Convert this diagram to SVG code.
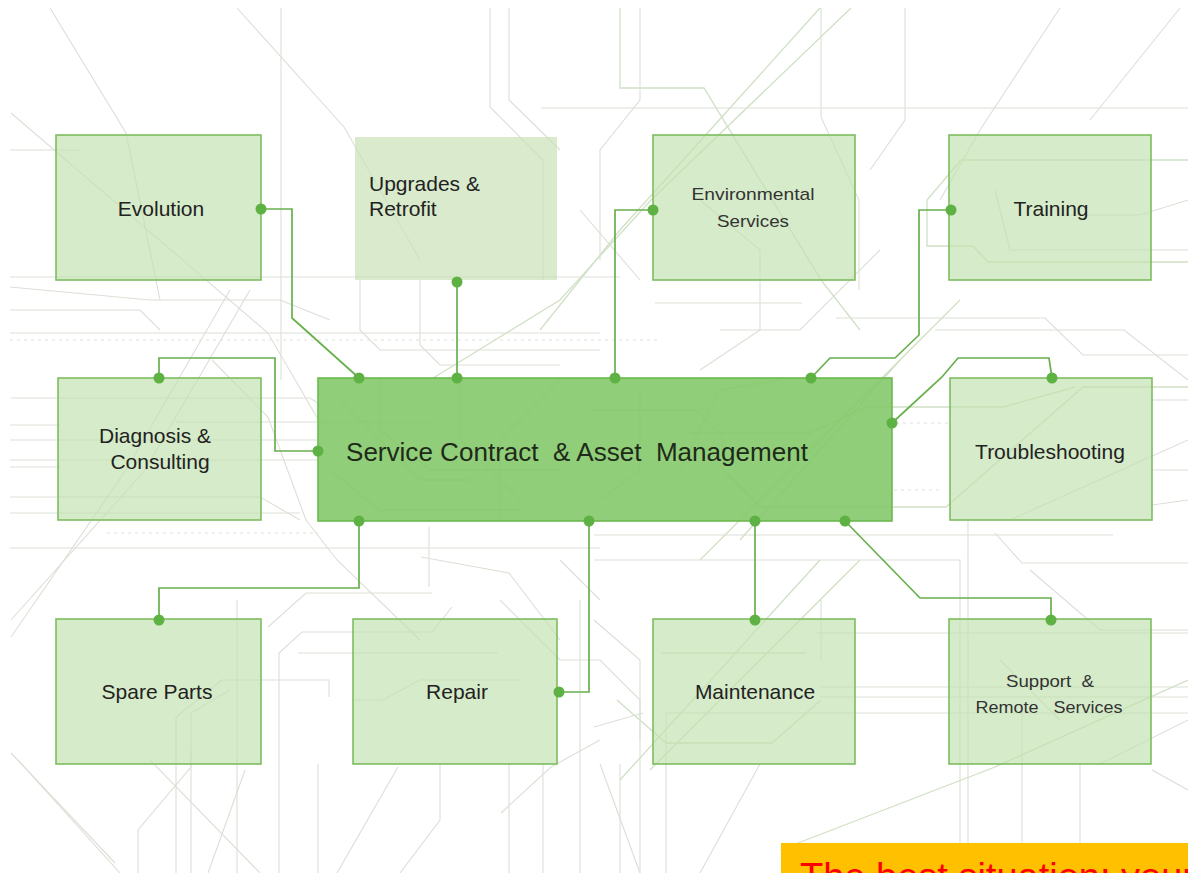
<svg xmlns="http://www.w3.org/2000/svg" width="1188" height="873" viewBox="0 0 1188 873">
  <style>
    .bg { fill: none; stroke: #dbe0d6; stroke-width: 1.1; }
    .bgg { fill: none; stroke: #cfe0c4; stroke-width: 1.3; }
    .bgd { fill: none; stroke: #dce1d7; stroke-width: 1.1; stroke-dasharray: 3 4; }
    .box { fill: #c2e1af; fill-opacity: 0.68; stroke: #7dbd60; stroke-width: 1.6; }
    .box-soft { fill: #c9e1b8; fill-opacity: 0.7; stroke: none; }
    .hub { fill: #82c767; fill-opacity: 0.88; stroke: #6cba4f; stroke-width: 1.6; }
    .wire { fill: none; stroke: #68b04c; stroke-width: 1.7; }
    .dot { fill: #5eb243; }
    .lbl { font-family: "Liberation Sans", Arial, sans-serif; font-size: 21px; fill: #222; text-anchor: middle; white-space: pre; }
    .lbl-l { text-anchor: start; }
    .lbl-n { font-size: 17px; fill: #333; }
    .hub-lbl { font-family: "Liberation Sans", Arial, sans-serif; font-size: 26px; fill: #1e2a1a; white-space: pre; }
  </style>

  <rect x="0" y="0" width="1188" height="873" fill="#ffffff"/>

  <!-- circuit-board background traces -->
  <g id="background">
    <!-- top band -->
    <polyline class="bg" points="50,8 126,133 160,300"/>
    <polyline class="bg" points="237,8 344,127 420,260"/>
    <polyline class="bg" points="11,113 268,333 330,440"/>
    <polyline class="bg" points="281,8 281,380"/>
    <polyline class="bg" points="490,8 490,107 543,160 543,280"/>
    <polyline class="bg" points="509,8 509,100 560,150"/>
    <polyline class="bgg" points="620,8 620,88 704,88 821,280 860,330"/>
    <polyline class="bgg" points="851,8 651,200 560,300 430,380"/>
    <polyline class="bgg" points="820,8 620,230 540,330"/>
    <polyline class="bg" points="821,8 821,117 859,200 859,290"/>
    <polyline class="bg" points="640,8 640,100 600,150 600,260"/>
    <polyline class="bg" points="905,8 905,120 870,170"/>
    <polyline class="bg" points="1060,8 980,130 940,200"/>
    <polyline class="bg" points="1180,8 1090,120"/>
    <polyline class="bg" points="541,108 1188,108"/>
    <polyline class="bg" points="10,150 80,150"/>
    <polyline class="bg" points="10,277 620,277"/>
    <polyline class="bg" points="10,287 150,300 280,300 330,320"/>
    <polyline class="bg" points="10,310 140,310 160,330"/>
    <polyline class="bgd" points="10,340 660,340"/>
    <polyline class="bg" points="10,333 600,333"/>
    <polyline class="bg" points="360,280 360,330 380,350 600,350"/>
    <polyline class="bg" points="420,280 420,345 440,365 560,365"/>
    <polyline class="bg" points="655,303 802,303"/>
    <polyline class="bg" points="836,318 1045,318 1083,355 1188,355"/>
    <polyline class="bg" points="935,330 1124,330 1188,380"/>
    <polyline class="bgg" points="961,160 1188,160"/>
    <polyline class="bgg" points="961,160 927,200 927,246 973,246 988,262 1188,262"/>
    <polyline class="bg" points="995,190 1010,250 1188,250"/>
    <polyline class="bg" points="1188,200 1140,215 1060,215"/>
    <polyline class="bg" points="700,200 760,250 760,330 700,370"/>
    <polyline class="bg" points="580,210 640,280"/>
    <polyline class="bg" points="880,250 800,330 720,330"/>

    <!-- middle band -->
    <polyline class="bg" points="11,398 310,398 333,413"/>
    <polyline class="bg" points="176,422 432,422"/>
    <polyline class="bg" points="10,425 60,425"/>
    <polyline class="bg" points="10,440 318,440"/>
    <polyline class="bg" points="10,460 318,460"/>
    <polyline class="bg" points="10,467 60,467"/>
    <polyline class="bg" points="10,497 260,497 300,520"/>
    <polyline class="bg" points="10,513 300,513"/>
    <polyline class="bgd" points="107,533 318,533"/>
    <polyline class="bg" points="10,548 600,548"/>
    <polyline class="bg" points="11,637 126,470 230,290"/>
    <polyline class="bg" points="11,620 145,470 250,290"/>
    <polyline class="bg" points="212,360 268,417 306,520 337,560 420,640"/>
    <polyline class="bg" points="268,627 306,593 432,593"/>
    <polyline class="bg" points="429,527 429,587"/>
    <polyline class="bg" points="421,557 509,573 560,640"/>
    <polyline class="bgg" points="340,400 420,480 470,480"/>
    <polyline class="bgg" points="380,380 380,430 430,470 560,470"/>
    <polyline class="bgg" points="330,470 380,510 520,510"/>
    <polyline class="bgg" points="460,380 460,440 520,500"/>
    <polyline class="bgg" points="560,380 500,440 500,520"/>
    <polyline class="bgg" points="594,410 696,410 723,437 723,470 761,507 946,507 1083,387 1188,387"/>
    <polyline class="bgg" points="689,433 810,433 867,407 1003,407 1075,387"/>
    <polyline class="bgg" points="640,390 640,470 600,500"/>
    <polyline class="bgg" points="740,540 900,360"/>
    <polyline class="bgg" points="700,560 960,300"/>
    <polyline class="bgg" points="680,470 720,390 780,380"/>
    <polyline class="bgd" points="896,423 950,423"/>
    <polyline class="bgd" points="880,490 940,490"/>
    <polyline class="bg" points="1152,400 1188,400"/>
    <polyline class="bg" points="1152,470 1188,470"/>
    <polyline class="bg" points="1152,505 1188,500"/>
    <polyline class="bg" points="594,535 1113,535"/>
    <polyline class="bg" points="594,560 960,560 960,843"/>
    <polyline class="bg" points="968,520 968,843"/>
    <polyline class="bg" points="995,533 1022,563 1188,563"/>
    <polyline class="bg" points="1030,570 1100,630 1188,630"/>
    <polyline class="bg" points="1010,520 1188,440"/>
    <polyline class="bg" points="560,560 600,600"/>

    <!-- bottom band -->
    <polyline class="bg" points="279,873 279,653 302,632 432,632 452,607"/>
    <polyline class="bg" points="298,653 498,653"/>
    <polyline class="bg" points="176,873 176,717 222,680 329,680 329,697"/>
    <polyline class="bg" points="191,873 191,713 230,690"/>
    <polyline class="bg" points="11,753 115,863"/>
    <polyline class="bg" points="18,760 120,873"/>
    <polyline class="bg" points="138,873 138,830 191,767 191,750"/>
    <polyline class="bg" points="237,600 237,873"/>
    <polyline class="bg" points="245,770 208,873"/>
    <polyline class="bg" points="150,760 260,873"/>
    <polyline class="bg" points="501,813 551,767 600,740"/>
    <polyline class="bg" points="509,764 509,873"/>
    <polyline class="bg" points="543,764 543,873"/>
    <polyline class="bg" points="580,600 580,873"/>
    <polyline class="bg" points="600,764 640,873"/>
    <polyline class="bg" points="398,767 337,873"/>
    <polyline class="bg" points="440,764 440,820 400,873"/>
    <polyline class="bg" points="318,764 318,873"/>
    <polyline class="bg" points="352,700 383,700 420,680 520,680"/>
    <polyline class="bg" points="500,600 560,660 600,660 640,700 640,873"/>
    <polyline class="bg" points="620,764 620,873"/>
    <polyline class="bg" points="817,633 1188,633"/>
    <polyline class="bg" points="821,687 1188,687"/>
    <polyline class="bg" points="821,697 1188,697"/>
    <polyline class="bg" points="666,713 1188,713"/>
    <polyline class="bgg" points="780,850 995,767 1188,680"/>
    <polyline class="bg" points="666,713 666,873"/>
    <polyline class="bg" points="821,600 821,660"/>
    <polyline class="bg" points="1022,713 1022,843"/>
    <polyline class="bg" points="1080,764 1080,843"/>
    <polyline class="bg" points="594,727 643,713"/>
    <polyline class="bgg" points="662,653 806,653"/>
    <polyline class="bgg" points="617,700 666,743 772,743 821,700"/>
    <polyline class="bgg" points="620,780 820,560"/>
    <polyline class="bgg" points="650,770 860,560"/>
    <polyline class="bg" points="594,620 640,660 640,740"/>
    <polyline class="bg" points="700,873 760,764"/>
    <polyline class="bg" points="1100,764 1188,720"/>
    <polyline class="bg" points="1152,770 1188,790"/>
    <polyline class="bg" points="1000,660 1060,720"/>
  </g>

  <!-- connectors -->
  <g id="connectors">
    <polyline class="wire" points="261,209 292,209 292,318 359,378"/>
    <polyline class="wire" points="457,282 457,378"/>
    <polyline class="wire" points="653,210 615,210 615,378"/>
    <polyline class="wire" points="951,210 919,210 919,335 895,358 830,358 811,378"/>
    <polyline class="wire" points="159,378 159,358 275,358 275,451 318,451"/>
    <polyline class="wire" points="892,423 942,377 958,358 1049,358 1052,378"/>
    <polyline class="wire" points="359,521 359,588 159,588 159,620"/>
    <polyline class="wire" points="589,521 589,692 559,692"/>
    <polyline class="wire" points="755,521 755,620"/>
    <polyline class="wire" points="845,521 920,598 1051,598 1051,620"/>
  </g>

  <!-- nodes -->
  <g id="node-evolution">
    <rect class="box" x="56" y="135" width="205" height="145"/>
    <text class="lbl" x="161" y="216">Evolution</text>
  </g>
  <g id="node-upgrades">
    <rect class="box-soft" x="355" y="137" width="202" height="143"/>
    <text class="lbl lbl-l" x="369" y="191">Upgrades &amp;</text>
    <text class="lbl lbl-l" x="369" y="216">Retrofit</text>
  </g>
  <g id="node-environmental">
    <rect class="box" x="653" y="135" width="202" height="145"/>
    <text class="lbl lbl-n" x="753" y="200" textLength="123" lengthAdjust="spacingAndGlyphs">Environmental</text>
    <text class="lbl lbl-n" x="753" y="227" textLength="72" lengthAdjust="spacingAndGlyphs">Services</text>
  </g>
  <g id="node-training">
    <rect class="box" x="949" y="135" width="202" height="145"/>
    <text class="lbl" x="1051" y="216">Training</text>
  </g>
  <g id="node-diagnosis">
    <rect class="box" x="58" y="378" width="203" height="142"/>
    <text class="lbl" x="155" y="443">Diagnosis &amp;</text>
    <text class="lbl" x="160" y="469">Consulting</text>
  </g>
  <g id="node-hub">
    <rect class="hub" x="318" y="378" width="574" height="143"/>
    <text class="hub-lbl" x="346" y="461" textLength="462" lengthAdjust="spacingAndGlyphs">Service Contract  &amp; Asset  Management</text>
  </g>
  <g id="node-troubleshooting">
    <rect class="box" x="950" y="378" width="202" height="142"/>
    <text class="lbl" x="1050" y="459">Troubleshooting</text>
  </g>
  <g id="node-spare-parts">
    <rect class="box" x="56" y="619" width="205" height="145"/>
    <text class="lbl" x="157" y="699">Spare Parts</text>
  </g>
  <g id="node-repair">
    <rect class="box" x="353" y="619" width="204" height="145"/>
    <text class="lbl" x="457" y="699">Repair</text>
  </g>
  <g id="node-maintenance">
    <rect class="box" x="653" y="619" width="202" height="145"/>
    <text class="lbl" x="755" y="699">Maintenance</text>
  </g>
  <g id="node-support">
    <rect class="box" x="949" y="619" width="202" height="145"/>
    <text class="lbl lbl-n" x="1050" y="687" textLength="88" lengthAdjust="spacingAndGlyphs">Support  &amp;</text>
    <text class="lbl lbl-n" x="1049" y="713" textLength="147" lengthAdjust="spacingAndGlyphs">Remote   Services</text>
  </g>

  <!-- connection points -->
  <g id="ports">
    <circle class="dot" cx="261" cy="209" r="5.5"/>
    <circle class="dot" cx="457" cy="282" r="5.5"/>
    <circle class="dot" cx="653" cy="210" r="5.5"/>
    <circle class="dot" cx="951" cy="210" r="5.5"/>
    <circle class="dot" cx="159" cy="378" r="5.5"/>
    <circle class="dot" cx="359" cy="378" r="5.5"/>
    <circle class="dot" cx="457" cy="378" r="5.5"/>
    <circle class="dot" cx="615" cy="378" r="5.5"/>
    <circle class="dot" cx="811" cy="378" r="5.5"/>
    <circle class="dot" cx="1052" cy="378" r="5.5"/>
    <circle class="dot" cx="318" cy="451" r="5.5"/>
    <circle class="dot" cx="892" cy="423" r="5.5"/>
    <circle class="dot" cx="359" cy="521" r="5.5"/>
    <circle class="dot" cx="589" cy="521" r="5.5"/>
    <circle class="dot" cx="755" cy="521" r="5.5"/>
    <circle class="dot" cx="845" cy="521" r="5.5"/>
    <circle class="dot" cx="159" cy="620" r="5.5"/>
    <circle class="dot" cx="559" cy="692" r="5.5"/>
    <circle class="dot" cx="755" cy="620" r="5.5"/>
    <circle class="dot" cx="1051" cy="620" r="5.5"/>
  </g>

  <!-- callout banner, its text running past the bottom edge -->
  <g id="banner">
    <rect x="781" y="843" width="407" height="30" fill="#ffc000"/>
    <text x="800" y="890" font-family="Liberation Sans, Arial, sans-serif" font-size="38" fill="#ff0000">The best situation: your</text>
  </g>
</svg>
